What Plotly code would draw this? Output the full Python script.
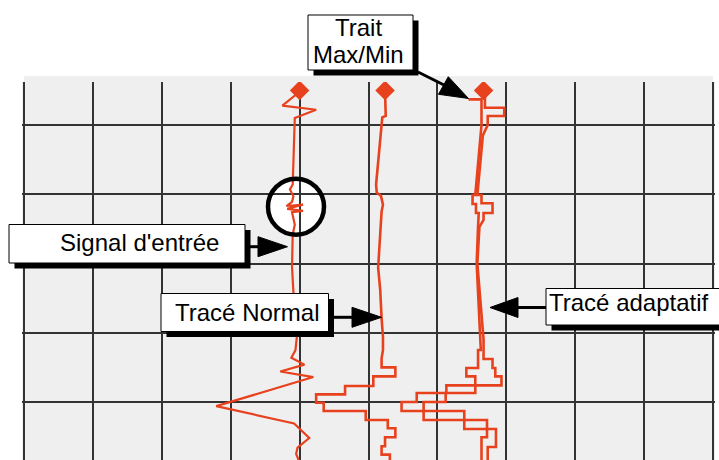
import plotly.graph_objects as go

# ---------------- data (chart divisions: x across, y = time downwards) -------------
signal_x = [4.00, 3.75, 4.24, 3.93, 3.90, 3.86, 3.91, 3.89, 3.81, 4.05, 3.82, 4.05, 3.89, 3.93,
            3.90, 3.89, 3.91, 3.96, 3.94, 3.88, 4.07, 3.72, 4.20, 2.79, 3.92, 4.14, 3.97, 3.95, 3.99]
signal_y = [0.52, 0.72, 0.78, 0.90, 1.86, 1.93, 2.03, 2.11, 2.17, 2.15, 2.21, 2.24, 2.26, 2.44,
            2.58, 3.05, 3.41, 4.06, 4.25, 4.36, 4.46, 4.56, 4.64, 5.06, 5.31, 5.52, 5.66, 5.75, 5.85]

normal_x = [5.24, 5.25, 5.25, 5.20, 5.11, 5.12, 5.18, 5.21, 5.19, 5.14, 5.17, 5.19, 5.21, 5.21,
            5.19, 5.19, 5.39, 5.39, 5.07, 5.07, 4.66, 4.66, 4.24, 4.24, 4.35, 4.35, 4.96, 4.96,
            5.28, 5.28, 5.39, 5.39, 5.24, 5.24, 5.19, 5.19, 5.31, 5.31]
normal_y = [0.52, 0.78, 0.87, 0.89, 1.86, 1.98, 2.02, 2.15, 2.25, 3.06, 3.38, 3.79, 4.06, 4.25,
            4.37, 4.50, 4.50, 4.63, 4.63, 4.77, 4.77, 4.89, 4.89, 5.01, 5.01, 5.13, 5.13, 5.26,
            5.26, 5.38, 5.38, 5.51, 5.51, 5.64, 5.64, 5.76, 5.76, 5.85]

# adaptive trace: min / max envelope, upper (continuous) part
adapt_min_x = [6.45, 6.64, 6.64, 6.55, 6.51, 6.51, 6.56, 6.56, 6.60, 6.60, 6.59, 6.57, 6.63]
adapt_min_y = [0.63, 0.63, 1.00, 2.01, 2.01, 2.14, 2.14, 2.27, 2.27, 2.37, 2.47, 3.00, 4.10]
adapt_max_x = [6.69, 6.69, 6.97, 6.97, 6.73, 6.73, 6.66, 6.58, 6.64, 6.64, 6.80, 6.80, 6.67,
               6.67, 6.61, 6.58, 6.67]
adapt_max_y = [0.58, 0.75, 0.75, 0.87, 0.87, 1.00, 1.15, 2.01, 2.01, 2.13, 2.13, 2.27, 2.27,
               2.37, 2.47, 3.00, 4.10]
# adaptive trace: lower stepped part (interval edges and min / max per interval)
adapt_step_y = [4.10, 4.25, 4.38, 4.51, 4.63, 4.76, 4.87, 5.00, 5.13, 5.26, 5.39, 5.51, 5.65, 5.85]
adapt_step_min = [6.63, 6.59, 6.59, 6.42, 6.55, 6.13, 5.70, 5.48, 5.80, 6.39, 6.72, 6.64, 6.64]
adapt_step_max = [6.67, 6.67, 6.80, 6.84, 6.93, 6.55, 6.12, 5.80, 6.39, 6.72, 6.85, 6.85, 6.73]

start_x = [4.00, 5.24, 6.67]
start_y = [0.50, 0.50, 0.50]

RED = "#e8411e"
FONT = "Liberation Sans, Arial, Helvetica, sans-serif"


def expand_steps(edges, vals):
    xs, ys = [], []
    for i, v in enumerate(vals):
        xs += [v, v]
        ys += [edges[i], edges[i + 1]]
    return xs, ys


smx, smy = expand_steps(adapt_step_y, adapt_step_min)
sMx, sMy = expand_steps(adapt_step_y, adapt_step_max)
amin_x, amin_y = adapt_min_x + smx, adapt_min_y + smy
amax_x, amax_y = adapt_max_x + sMx, adapt_max_y + sMy

# ---------------- layout geometry --------------------------------------------------
W, H = 719, 460
L, R, T, B = 22, 4, 82, 0
PW, PH = W - L - R, H - T - B


def px(x):
    return (x - L) / PW


def py(y):
    return (H - B - y) / PH


def dx(p):
    return (p - 24) / 68.9


def dy(p):
    return (p - 55.75) / 69.25


fig = go.Figure()
fig.add_trace(go.Scatter(x=signal_x, y=signal_y, mode="lines",
                         line=dict(color=RED, width=2.2), hoverinfo="skip"))
fig.add_trace(go.Scatter(x=normal_x, y=normal_y, mode="lines",
                         line=dict(color=RED, width=2.6), hoverinfo="skip"))
fig.add_trace(go.Scatter(x=amin_x, y=amin_y, mode="lines",
                         line=dict(color=RED, width=2.6), hoverinfo="skip"))
fig.add_trace(go.Scatter(x=amax_x, y=amax_y, mode="lines",
                         line=dict(color=RED, width=2.6), hoverinfo="skip"))
fig.add_trace(go.Scatter(x=start_x, y=start_y, mode="markers",
                         marker=dict(symbol="diamond", size=15, color=RED, line=dict(width=0)),
                         hoverinfo="skip"))

shapes = []
# top grey band (above the grid)
shapes.append(dict(type="rect", xref="paper", yref="paper", x0=px(24), x1=px(713),
                   y0=py(82), y1=py(76), fillcolor="#efefef", line=dict(width=0), layer="above"))
# circle highlighting input noise
cx, cy, rr = 296, 206.7, 28
shapes.append(dict(type="circle", xref="x", yref="y", x0=dx(cx - rr), x1=dx(cx + rr),
                   y0=dy(cy - rr), y1=dy(cy + rr), fillcolor="white",
                   line=dict(width=0), layer="below"))
shapes.append(dict(type="circle", xref="x", yref="y", x0=dx(cx - rr), x1=dx(cx + rr),
                   y0=dy(cy - rr), y1=dy(cy + rr), line=dict(color="black", width=4.5),
                   layer="above"))


def box(x0, y0, x1, y1, off=5.5):
    shapes.append(dict(type="rect", xref="paper", yref="paper",
                       x0=px(x0 + off), x1=px(x1 + off), y0=py(y1 + off), y1=py(y0 + off),
                       fillcolor="black", line=dict(width=0), layer="above"))
    shapes.append(dict(type="rect", xref="paper", yref="paper",
                       x0=px(x0), x1=px(x1), y0=py(y1), y1=py(y0),
                       fillcolor="white", line=dict(color="black", width=1), layer="above"))


def arrow(sx, sy, bx, by, tip, c1, c2):
    shapes.append(dict(type="line", xref="paper", yref="paper",
                       x0=px(sx), y0=py(sy), x1=px(bx), y1=py(by),
                       line=dict(color="black", width=3), layer="above"))
    path = "M {},{} L {},{} L {},{} Z".format(px(tip[0]), py(tip[1]), px(c1[0]), py(c1[1]),
                                              px(c2[0]), py(c2[1]))
    shapes.append(dict(type="path", xref="paper", yref="paper", path=path,
                       fillcolor="black", line=dict(color="black", width=1), layer="above"))


box(308, 15, 413, 70)
box(9, 224.5, 245, 263)
box(161, 293.5, 328.5, 331.5)
box(546, 288.5, 730, 325)

arrow(418, 72, 446, 86, (468.5, 98.5), (438.5, 94.3), (448.3, 76.7))
arrow(250, 246.7, 262, 246.7, (287.5, 246.7), (258, 236.7), (258, 256.7))
arrow(334, 317.3, 356, 317.3, (381.5, 317.3), (352, 307.3), (352, 327.3))
arrow(546, 307.5, 515, 307.5, (490, 307.5), (518, 297.5), (518, 317.5))

fig.update_layout(shapes=shapes)

annots = [
    ("Trait", 358, 27.3, "center"),
    ("Max/Min", 358, 54.5, "center"),
    ("Signal d'entrée", 139.5, 242.4, "center"),
    ("Tracé Normal", 246.5, 312.4, "center"),
    ("Tracé adaptatif", 548, 302.7, "left"),
]
for text, x, y, anc in annots:
    fig.add_annotation(text=text, xref="paper", yref="paper", x=px(x), y=py(y),
                       xanchor=anc, yanchor="middle", showarrow=False, borderpad=0,
                       font=dict(family=FONT, size=24, color="black"))

x_pad = 2 / 68.9
fig.update_xaxes(range=[-x_pad, 10 + x_pad], showgrid=True, gridcolor="#333333", gridwidth=1.5,
                 tick0=0, dtick=1, showticklabels=False, zeroline=False, showline=False,
                 ticks="", fixedrange=True)
fig.update_yaxes(range=[(460 - 55.75) / 69.25, (82 - 55.75) / 69.25], showgrid=True,
                 gridcolor="#333333", gridwidth=1.5, tick0=0, dtick=1, showticklabels=False,
                 zeroline=False, showline=False, ticks="", fixedrange=True)

fig.update_layout(width=W, height=H, margin=dict(l=L, r=R, t=T, b=B, pad=0),
                  plot_bgcolor="#efefef", paper_bgcolor="white", showlegend=False)

fig.write_html("out.html", config={"displayModeBar": False},
               post_script="document.body.style.margin='0';document.body.style.overflow='hidden';")
